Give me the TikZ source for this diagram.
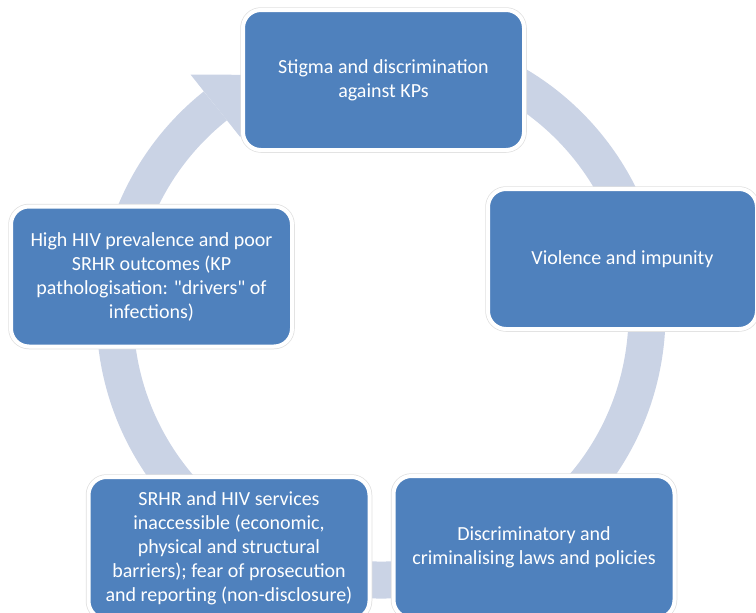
\documentclass[tikz,border=0pt]{standalone}
\usepackage{fontspec}
\setmainfont{Carlito}[Ligatures=TeXOff]
\definecolor{boxblue}{RGB}{79,129,189}
\definecolor{ringblue}{RGB}{202,211,229}
\begin{document}
\begin{tikzpicture}[x=1pt, y=1pt,
	box/.style={rectangle, rounded corners=18pt, fill=boxblue, draw=white, line width=4pt,
		preaction={draw=black!12, line width=5.5pt}, text=white, align=center, inner sep=0pt,
		minimum width=281pt, minimum height=140pt, font=\fontsize{20}{24}\selectfont},
	ring/.style={draw=ringblue, line width=37pt}]
	\useasboundingbox (0, 0) rectangle (756, -613);
	\coordinate (0) at (381, -314);
	\draw[ring] ([shift={(80:266)}]0) arc[start angle=80, end angle=-231.5, radius=266pt];
	\fill[ringblue] ([shift={(128.5:306)}]0) -- ([shift={(116:266)}]0) -- ([shift={(128.5:226)}]0) -- cycle;
	\node[box] (1) at (383.5, -80) {Stigma and discrimination\\against KPs};
	\node[box, minimum width=269pt] (2) at (622.5, -259) {Violence and impunity};
	\node[box, minimum height=142pt] (3) at (534, -547) {Discriminatory and\\criminalising laws and policies};
	\node[box, minimum height=142pt] (4) at (229, -548) {SRHR and HIV services\\inaccessible (economic,\\physical and structural\\barriers); fear of prosecution\\and reporting (non-disclosure)};
	\node[box] (5) at (151.5, -276.5) {High HIV prevalence and poor\\SRHR outcomes (KP\\pathologisation: "drivers" of\\infections)};
\end{tikzpicture}
\end{document}
